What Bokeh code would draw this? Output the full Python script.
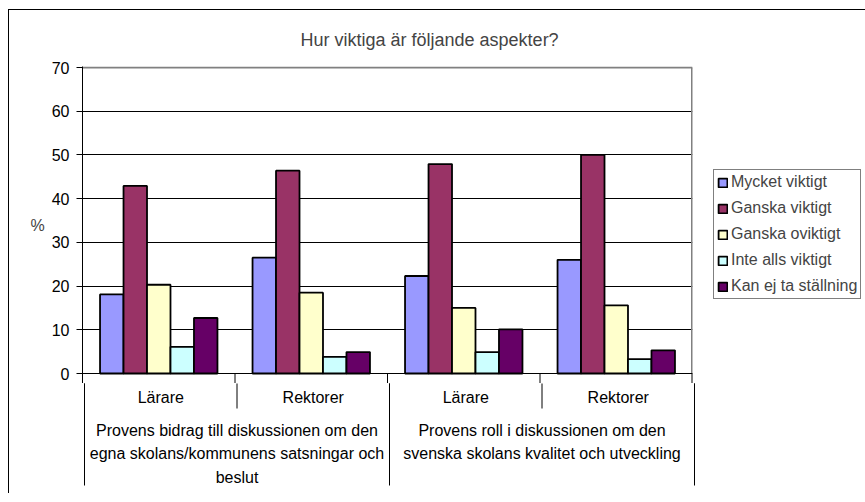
from bokeh.plotting import figure
from bokeh.models import (FactorRange, ColumnDataSource, Legend, LegendItem,
                          Range1d, FixedTicker)
from bokeh.layouts import column
from bokeh.transform import dodge
from bokeh.core.properties import value
from bokeh.embed import file_html
from bokeh.resources import INLINE

# ---- data ----
groups = ["Provens bidrag till diskussionen om den\negna skolans/kommunens satsningar och\nbeslut",
          "Provens roll i diskussionen om den\nsvenska skolans kvalitet och utveckling"]
subs = ["Lärare", "Rektorer"]
series = ["Mycket viktigt", "Ganska viktigt", "Ganska oviktigt", "Inte alls viktigt", "Kan ej ta ställning"]
mycket_viktigt = [18.1, 26.5, 22.3, 26.0]
ganska_viktigt = [42.9, 46.4, 47.9, 50.0]
ganska_oviktigt = [20.3, 18.5, 15.0, 15.6]
inte_alls_viktigt = [6.1, 3.8, 4.9, 3.3]
kan_ej = [12.7, 4.9, 10.1, 5.3]
y_ticks = [0, 10, 20, 30, 40, 50, 60, 70]
title_text = "Hur viktiga är följande aspekter?"
y_label = "%"

colors = ["#9999FF", "#993366", "#FFFFCC", "#CCFFFF", "#660066"]
FONT = "Liberation Sans"
FS = "16px"

factors = [(g, s) for g in groups for s in subs]
values = [mycket_viktigt, ganska_viktigt, ganska_oviktigt, inte_alls_viktigt, kan_ej]
data = {"x": factors}
for i, v in enumerate(values):
    data["s%d" % i] = v
source = ColumnDataSource(data)

W = 855
TOP = 48
PLOT_W, PLOT_H = 610, 306          # plot area in pixels (0..70)
k = PLOT_H / (y_ticks[-1] - y_ticks[0])   # pixels per percent
ext_bot, ext_top = 10, 1           # frame extension (px) below 0 / above 70
y_lo, y_hi = y_ticks[0] - ext_bot / k, y_ticks[-1] + ext_top / k

n = len(factors)
bounds = [float(i) for i in range(n + 1)]
long_b = bounds[::len(subs)]

# ---------------- main chart ----------------
x_range = FactorRange(*factors, factor_padding=0, group_padding=0, range_padding=0)
p = figure(width=W, height=TOP + PLOT_H + ext_bot + ext_top,
           frame_width=PLOT_W, frame_height=PLOT_H + ext_bot + ext_top,
           x_range=x_range, y_range=Range1d(y_lo, y_hi),
           output_backend="svg", toolbar_location=None, x_axis_location=None,
           min_border_left=73, min_border_right=W - 73 - PLOT_W, min_border_top=TOP, min_border_bottom=0)

bw = 0.154
renderers = []
for i, s in enumerate(series):
    off = (i - 2) * bw
    r = p.vbar(x=dodge("x", off, range=p.x_range), top="s%d" % i, width=bw, source=source,
               fill_color=colors[i], line_color="black", line_width=1.8)
    renderers.append(r)

# plot-area border: gray top and right, black category axis line at 0
p.hspan(y=[y_ticks[-1]], line_color="#808080", line_width=2)
p.segment(x0=[bounds[-1]], x1=[bounds[-1]], y0=[y_ticks[0]], y1=[y_ticks[-1]],
          line_color="#808080", line_width=3)
p.hspan(y=[y_ticks[0]], line_color="black", line_width=1.2)
# start of category separators (continue in the table below)
p.segment(x0=bounds[1:-1], x1=bounds[1:-1], y0=[y_lo] * (n - 1), y1=[y_ticks[0]] * (n - 1),
          line_color="black", line_width=1)
p.segment(x0=[bounds[-1]], x1=[bounds[-1]], y0=[y_lo], y1=[y_ticks[0]],
          line_color="black", line_width=2)

p.title.text = title_text
p.title.align = "left"
p.title.offset = 218
p.title.text_font = FONT
p.title.text_font_size = "18px"
p.title.text_font_style = "normal"
p.title.standoff = 34

p.outline_line_color = None
p.xgrid.grid_line_color = None
p.ygrid.grid_line_color = "black"
p.ygrid.grid_line_width = 1
p.ygrid.ticker = FixedTicker(ticks=y_ticks[:-1])

ya = p.yaxis[0]
ya.ticker = FixedTicker(ticks=y_ticks)
ya.axis_line_color = "black"
ya.major_tick_in = 0
ya.major_tick_out = 6
ya.minor_tick_line_color = None
ya.major_label_text_font = FONT
ya.major_label_text_font_size = FS
ya.major_label_text_color = "black"
ya.major_label_standoff = 7
ya.axis_label = y_label
ya.axis_label_orientation = "horizontal"
ya.axis_label_text_font = FONT
ya.axis_label_text_font_size = FS
ya.axis_label_text_font_style = "normal"
ya.axis_label_standoff = 4

items = [LegendItem(label=s, renderers=[r]) for s, r in zip(series, renderers)]
legend = Legend(items=items, location=(21, 84), border_line_color="black", border_line_width=1,
                background_fill_color="white", background_fill_alpha=1,
                label_text_font=FONT, label_text_font_size=FS,
                glyph_width=11, glyph_height=11, label_height=18, label_standoff=3,
                spacing=8, padding=3, margin=0)
p.add_layout(legend, "right")

# ---------------- category table below the axis ----------------
pad_px = 2.0
unit_px = PLOT_W / n
x_range2 = FactorRange(*factors, factor_padding=0, group_padding=0,
                       range_padding=pad_px / unit_px, range_padding_units="absolute")
q = figure(width=W, height=110, frame_width=PLOT_W + 4, frame_height=110,
           x_range=x_range2, y_range=Range1d(120, ext_bot),
           output_backend="svg", toolbar_location=None,
           x_axis_location=None, y_axis_location=None,
           min_border_left=71, min_border_right=W - 71 - PLOT_W - 4, min_border_top=0, min_border_bottom=0)
q.outline_line_color = None
q.grid.grid_line_color = None

q.segment(x0=bounds, x1=bounds, y0=[0] * len(bounds), y1=[35] * len(bounds),
          line_color="black", line_width=1)
q.segment(x0=long_b, x1=long_b, y0=[0] * len(long_b), y1=[112] * len(long_b),
          line_color="black", line_width=1)

q.text(x=factors, y=[24] * n, text=[f[1] for f in factors],
       text_font=value(FONT), text_font_size=FS, text_align="center",
       text_baseline="middle", text_color="black")
q.text(x=groups, y=[48] * len(groups), text=groups,
       text_font=value(FONT), text_font_size=FS, text_align="center",
       text_baseline="top", text_line_height=1.4, text_color="black")

layout = column(p, q, spacing=0,
                styles={"border-left": "1px solid black", "border-top": "1px solid black",
                        "margin-left": "8px", "margin-top": "9px"})

open("out.html", "w").write(file_html(layout, INLINE))
